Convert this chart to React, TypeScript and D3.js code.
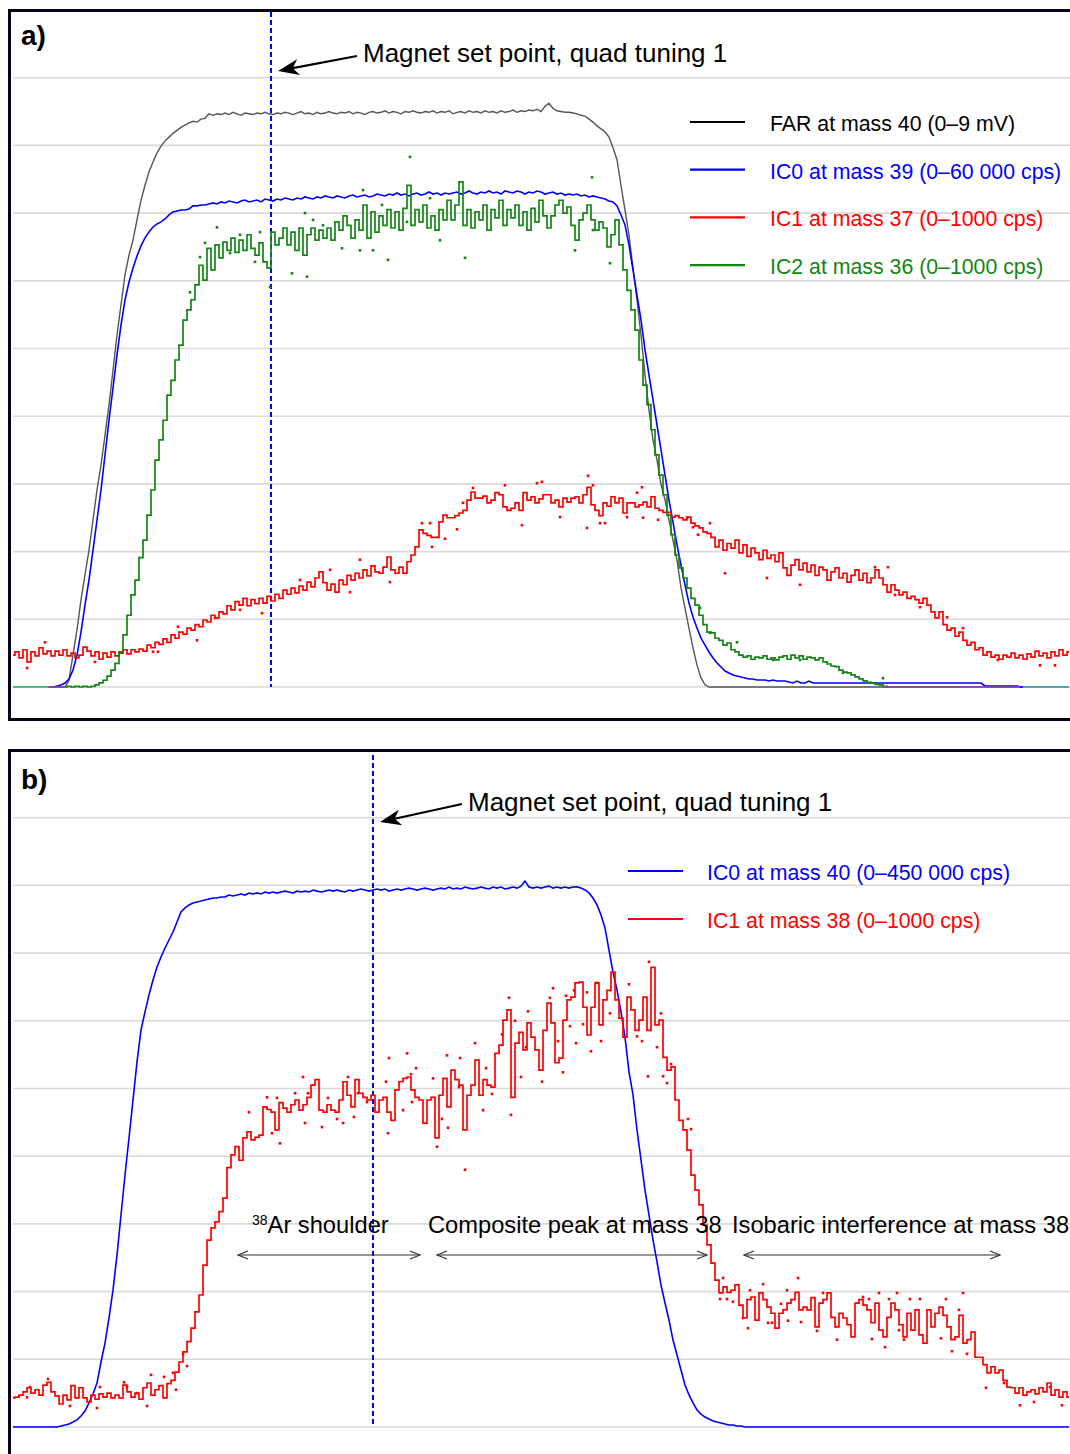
import React from 'react';
import * as d3 from 'd3';

const FONT = "'Liberation Sans', Arial, Helvetica, sans-serif";
const STEP = 4; // scan channels between stored samples
const CHANNELS = 1056;

// ---------- Panel a: mass 40 / 39 / 37 / 36 scan ----------
const FS_FAR = 9; // mV
const FS_IC0_A = 60000; // cps
const FS_IC1_A = 1000;
const FS_IC2_A = 1000;

const farA = [
  0, 0, 0, 0, 0, 0, 0, 0, 0, 0,
  0, 0, 0, 0, 0.09, 0.43, 0.76, 1.16, 1.49, 1.82,
  2.22, 2.62, 2.95, 3.35, 3.75, 4.21, 4.68, 5.08, 5.48, 5.74,
  5.94, 6.21, 6.47, 6.67, 6.85, 6.98, 7.10, 7.19, 7.26, 7.31,
  7.36, 7.40, 7.44, 7.47, 7.50, 7.52, 7.51, 7.55, 7.56, 7.62,
  7.60, 7.62, 7.61, 7.63, 7.61, 7.64, 7.62, 7.60, 7.63, 7.62,
  7.61, 7.63, 7.62, 7.64, 7.62, 7.61, 7.63, 7.62, 7.64, 7.63,
  7.61, 7.63, 7.65, 7.62, 7.63, 7.61, 7.64, 7.62, 7.63, 7.65,
  7.63, 7.62, 7.64, 7.63, 7.65, 7.62, 7.64, 7.63, 7.61, 7.64,
  7.65, 7.63, 7.64, 7.66, 7.63, 7.65, 7.64, 7.62, 7.65, 7.64,
  7.66, 7.64, 7.63, 7.65, 7.64, 7.66, 7.63, 7.65, 7.64, 7.66,
  7.62, 7.64, 7.65, 7.63, 7.66, 7.64, 7.65, 7.63, 7.66, 7.64,
  7.65, 7.63, 7.66, 7.64, 7.65, 7.67, 7.64, 7.66, 7.65, 7.67,
  7.66, 7.68, 7.65, 7.72, 7.76, 7.69, 7.66, 7.65, 7.64, 7.64,
  7.63, 7.62, 7.60, 7.59, 7.55, 7.51, 7.46, 7.42, 7.38, 7.31,
  7.17, 7.01, 6.67, 6.34, 6.01, 5.57, 5.14, 4.68, 4.15, 3.68,
  3.28, 3.02, 2.69, 2.49, 2.22, 1.95, 1.69, 1.32, 1.05, 0.78,
  0.52, 0.29, 0.12, 0.03, 0, 0, 0, 0, 0, 0,
  0, 0, 0, 0, 0, 0, 0, 0, 0, 0,
  0, 0, 0, 0, 0, 0, 0, 0, 0, 0,
  0, 0, 0, 0, 0, 0, 0, 0, 0, 0,
  0, 0, 0, 0, 0, 0, 0, 0, 0, 0,
  0, 0, 0, 0, 0, 0, 0, 0, 0, 0,
  0, 0, 0, 0, 0, 0, 0, 0, 0, 0,
  0, 0, 0, 0, 0, 0, 0, 0, 0, 0,
  0, 0, 0, 0, 0, 0, 0, 0, 0, 0,
  0, 0, 0, 0, 0,
];

const ic0A = [
  0, 0, 0, 0, 0, 0, 0, 0, 0, 0,
  0, 90, 180, 350, 710, 1510, 2840, 4870, 7270, 9480,
  12140, 14800, 17460, 20560, 23660, 26500, 29430, 32080, 34300, 35890,
  37140, 38200, 39090, 39800, 40330, 40770, 41040, 41220, 41480, 41840,
  42100, 42190, 42280, 42280, 42370, 42640, 42640, 42720, 42720, 42810,
  42900, 42810, 42990, 42900, 43070, 42990, 42900, 43070, 43160, 42990,
  43070, 43160, 42990, 43250, 43160, 43070, 43250, 43160, 43340, 43250,
  43160, 43340, 43250, 43430, 43340, 43250, 43430, 43340, 43520, 43430,
  43340, 43520, 43430, 43340, 43520, 43600, 43430, 43520, 43600, 43430,
  43520, 43690, 43600, 43520, 43690, 43600, 43780, 43600, 43690, 43520,
  43690, 43780, 43600, 43690, 43870, 43690, 43780, 43600, 43780, 43690,
  43780, 43870, 43690, 43780, 43960, 43780, 43690, 43870, 43780, 43960,
  43780, 43870, 43690, 43960, 43870, 43780, 43960, 43870, 43690, 43870,
  43780, 43960, 43870, 43690, 43780, 43870, 43690, 43780, 43600, 43690,
  43600, 43690, 43520, 43600, 43430, 43520, 43430, 43340, 43250, 43070,
  42990, 42630, 41830, 40950, 39180, 36960, 34740, 32530, 29870, 27650,
  25440, 23220, 21010, 18790, 16570, 14620, 12590, 10810, 9040, 7440,
  6200, 5230, 4340, 3720, 3100, 2570, 2130, 1770, 1420, 1240,
  1060, 970, 890, 800, 710, 710, 620, 620, 620, 530,
  620, 530, 530, 530, 440, 355, 530, 355, 355, 530,
  355, 355, 355, 355, 355, 355, 355, 355, 355, 355,
  355, 355, 355, 355, 355, 355, 355, 355, 355, 355,
  355, 355, 355, 355, 355, 355, 355, 355, 355, 355,
  355, 355, 355, 355, 355, 355, 355, 355, 355, 355,
  355, 355, 355, 90, 90, 90, 90, 90, 90, 90,
  90, 90, 0, 0, 0, 0, 0, 0, 0, 0,
  0, 0, 0, 0, 0,
];

const ic1A = [
  47, 52, 43, 55, 37, 52, 46, 58, 49, 53,
  46, 53, 47, 55, 46, 50, 43, 47, 59, 53,
  46, 52, 41, 50, 44, 52, 46, 50, 55, 49,
  55, 52, 56, 53, 62, 58, 66, 63, 71, 66,
  77, 72, 81, 78, 87, 84, 92, 89, 99, 96,
  106, 102, 111, 108, 120, 114, 126, 121, 131, 120,
  129, 123, 131, 124, 134, 127, 137, 131, 143, 137,
  146, 139, 149, 143, 155, 148, 161, 170, 154, 143,
  152, 140, 158, 151, 165, 158, 168, 161, 173, 164,
  179, 170, 168, 177, 192, 173, 168, 177, 168, 185,
  195, 207, 232, 227, 224, 221, 221, 244, 254, 250,
  250, 253, 257, 261, 276, 288, 279, 279, 282, 272,
  276, 287, 284, 266, 261, 264, 272, 261, 287, 276,
  281, 272, 278, 284, 284, 272, 276, 266, 279, 273,
  279, 281, 272, 284, 295, 269, 261, 253, 272, 267,
  281, 272, 279, 257, 272, 272, 266, 269, 273, 266,
  281, 264, 261, 258, 258, 251, 253, 250, 247, 251,
  242, 238, 235, 229, 227, 221, 207, 217, 202, 212,
  205, 217, 198, 210, 193, 205, 198, 188, 202, 190,
  195, 185, 198, 176, 165, 180, 188, 173, 183, 170,
  180, 165, 177, 173, 158, 170, 176, 161, 168, 155,
  165, 173, 158, 168, 154, 161, 173, 161, 151, 140,
  151, 143, 136, 140, 131, 134, 129, 124, 131, 121,
  111, 102, 111, 92, 84, 87, 75, 81, 69, 62,
  66, 55, 58, 47, 52, 44, 47, 41, 47, 44,
  50, 43, 47, 41, 49, 44, 53, 46, 50, 43,
  52, 46, 55, 47, 52,
];

const ic2A: (number | null)[] = [
  0, 0, 0, 0, 0, 0, 0, 0, 0, 0,
  0, 0, 0, 0, 1, 0, 1, 0, 1, 0,
  1, 3, 6, 10, 16, 25, 35, 52, 77, 106,
  136, 158, 191, 217, 254, 291, 335, 365, 394, 431,
  453, 483, 505, 542, 557, 572, 594, 623, 601, 648,
  616, 653, 634, 657, 645, 663, 642, 660, 645, 668,
  648, 638, 656, 628, 619, 672, 653, 663, 678, 653,
  672, 645, 678, 638, 668, 678, 660, 675, 663, 678,
  660, 687, 675, 696, 682, 663, 690, 675, 712, 663,
  702, 672, 696, 682, 705, 678, 702, 675, 707, 741,
  682, 705, 687, 712, 678, 696, 675, 705, 690, 719,
  690, 712, 746, 682, 705, 678, 702, 690, 712, 675,
  705, 693, 719, 682, 705, 693, 712, 682, 702, 675,
  707, 687, 719, 696, 678, 696, 712, 719, 700, 709,
  682, 660, 690, 700, 712, 690, 675, 687, 678, 650,
  668, 690, 653, 616, 586, 557, 527, 483, 446, 417,
  380, 343, 313, 284, 254, 225, 195, 176, 161, 146,
  131, 121, 106, 92, 81, 80, 72, 69, 62, 65,
  55, 52, 47, 44, 46, 41, 44, 43, 46, 41,
  43, 40, 44, 46, 41, 47, 43, 46, 41, 44,
  43, 40, 43, 37, 34, 31, 30, 25, 22, 21,
  18, 15, 12, 9, 7, 6, 4, 3, 1, 0,
  0, 0, 0, 0, 0, 0, 0, 0, 0, 0,
  0, 0, 0, 0, 0, 0, 0, 0, null, null,
  null, null, null, null, null, null, null, null, null, null,
  null, null, null, null, null, null, null, null, null, null,
  null, null, null, null, null,
];

// isolated readings [channel, cps]
const ic1ADots = [
  [14, 28], [32, 66], [82, 37], [140, 52], [145, 52], [165, 89], [184, 69], [202, 102],
  [227, 114], [249, 109], [287, 158], [317, 173], [337, 140], [347, 188], [377, 155],
  [409, 242], [417, 242], [419, 207], [432, 219], [444, 233], [450, 272], [460, 294],
  [492, 298], [509, 239], [524, 301], [529, 303], [547, 251], [574, 235], [575, 312],
  [580, 298], [587, 242], [592, 242], [614, 251], [624, 287], [629, 295], [630, 250],
  [645, 247], [674, 250], [680, 236], [685, 225], [697, 242], [712, 168], [754, 161],
  [787, 151], [862, 177], [875, 177], [882, 136], [907, 118], [934, 103], [950, 87],
  [985, 40], [1027, 32], [1042, 32],
];

const ic2ADots = [
  [177, 583], [187, 635], [192, 656], [204, 679], [217, 641], [227, 668], [242, 628],
  [247, 672], [257, 591], [279, 611], [292, 700], [294, 606], [300, 690], [310, 682],
  [329, 648], [347, 645], [350, 734], [360, 645], [369, 712], [375, 631], [394, 687],
  [397, 783], [417, 722], [427, 660], [452, 634], [562, 645], [579, 753], [580, 675],
  [597, 626], [687, 117], [697, 80], [724, 66], [760, 40], [787, 40], [830, 21], [870, 13],
];

// other collectors sitting on zero: [from channel, to channel]
const quietTracesA = [
  { color: '#66d8a8', spans: [[0, 37], [1010, 1056]] },
  { color: '#a23db6', spans: [[35, 52], [870, 1007]] },
];

const setPointA = 258;

const legendA = [
  { label: 'FAR at mass 40 (0–9 mV)', line: '#000000', text: '#000000' },
  { label: 'IC0 at mass 39 (0–60 000 cps)', line: '#0000ff', text: '#0000ff' },
  { label: 'IC1 at mass 37 (0–1000 cps)', line: '#ff0000', text: '#ff0000' },
  { label: 'IC2 at mass 36 (0–1000 cps)', line: '#128512', text: '#128512' },
];

// ---------- Panel b: mass 40 / 38 scan ----------
const FS_IC0_B = 450; // kcps
const FS_IC1_B = 1000; // cps

const ic0B = [
  0, 0, 0, 0, 0, 0, 0, 0, 0, 0,
  0, 0, 0.7, 1.3, 2.0, 3.3, 4.7, 7.3, 10.6, 16.0,
  21.9, 29.2, 43.2, 55.8, 72.5, 91.1, 114.3, 140.9, 167.5, 192.1,
  217.4, 242.6, 263.9, 275.9, 287.2, 297.1, 305.8, 312.4, 318.4, 323.7,
  329.0, 335.7, 342.3, 345.0, 347.0, 348.3, 349.0, 349.6, 350.3, 351.0,
  351.6, 351.6, 352.3, 352.3, 353.6, 353.0, 353.6, 354.3, 353.6, 354.9,
  354.3, 355.0, 354.3, 355.6, 354.9, 355.6, 354.9, 355.6, 356.2, 355.6,
  354.9, 356.2, 355.6, 356.2, 355.6, 356.9, 356.2, 355.6, 356.2, 356.9,
  356.2, 356.9, 356.2, 355.6, 356.9, 356.2, 356.9, 357.6, 356.9, 356.2,
  356.9, 357.6, 356.9, 357.6, 356.2, 356.9, 357.6, 356.9, 357.6, 358.2,
  357.6, 356.9, 357.6, 358.2, 357.6, 356.9, 357.6, 358.2, 357.6, 358.9,
  357.6, 358.2, 357.6, 358.9, 358.2, 357.6, 358.2, 358.9, 358.2, 357.6,
  358.9, 358.2, 358.9, 357.6, 358.2, 358.9, 358.2, 359.5, 362.9, 358.9,
  358.2, 358.9, 358.2, 358.9, 359.5, 358.2, 358.9, 358.2, 358.9, 358.2,
  358.9, 359.0, 358.3, 357.0, 355.0, 351.6, 347.0, 340.3, 331.7, 317.0,
  302.4, 290.5, 275.9, 259.2, 236.0, 220.7, 197.4, 177.5, 157.5, 140.9,
  124.3, 109.7, 94.4, 82.4, 71.1, 57.8, 47.9, 37.9, 27.9, 21.3,
  16.0, 11.3, 8.6, 6.6, 5.3, 4.0, 3.3, 2.7, 2.0, 1.3,
  1.3, 0.7, 0.7, 0, 0, 0, 0, 0, 0, 0,
  0, 0, 0, 0, 0, 0, 0, 0, 0, 0,
  0, 0, 0, 0, 0, 0, 0, 0, 0, 0,
  0, 0, 0, 0, 0, 0, 0, 0, 0, 0,
  0, 0, 0, 0, 0, 0, 0, 0, 0, 0,
  0, 0, 0, 0, 0, 0, 0, 0, 0, 0,
  0, 0, 0, 0, 0, 0, 0, 0, 0, 0,
  0, 0, 0, 0, 0, 0, 0, 0, 0, 0,
  0, 0, 0, 0, 0,
];

const ic1B = [
  43, 44, 47, 52, 58, 50, 55, 47, 62, 66,
  52, 46, 34, 47, 40, 61, 43, 58, 43, 37,
  47, 41, 49, 44, 50, 43, 47, 43, 62, 52,
  44, 50, 41, 58, 65, 47, 55, 61, 43, 64,
  69, 81, 96, 111, 126, 146, 170, 195, 239, 276,
  294, 303, 318, 338, 383, 402, 414, 394, 427, 436,
  424, 428, 431, 473, 469, 465, 439, 479, 471, 465,
  476, 483, 468, 476, 487, 505, 513, 468, 465, 476,
  468, 465, 483, 510, 490, 473, 513, 493, 487, 483,
  490, 465, 483, 487, 465, 453, 498, 510, 515, 517,
  498, 487, 483, 449, 483, 487, 427, 490, 515, 473,
  527, 513, 505, 439, 490, 505, 542, 490, 513, 505,
  502, 552, 564, 601, 616, 487, 567, 583, 557, 597,
  576, 557, 527, 586, 626, 597, 538, 545, 601, 631,
  635, 656, 657, 620, 579, 620, 656, 594, 631, 645,
  672, 631, 604, 576, 635, 616, 586, 601, 635, 586,
  679, 594, 601, 546, 527, 532, 483, 453, 439, 409,
  372, 350, 328, 298, 269, 242, 217, 198, 207, 199,
  202, 210, 180, 161, 188, 192, 158, 198, 188, 177,
  168, 146, 168, 173, 183, 188, 199, 173, 177, 173,
  191, 148, 183, 188, 198, 162, 148, 168, 161, 151,
  133, 183, 188, 180, 173, 154, 183, 143, 133, 162,
  183, 173, 151, 133, 168, 143, 173, 136, 124, 173,
  148, 168, 177, 165, 148, 129, 133, 165, 124, 129,
  140, 103, 103, 92, 80, 89, 80, 84, 69, 59,
  58, 50, 58, 47, 52, 55, 49, 58, 52, 65,
  47, 55, 44, 52, 44,
];

const ic1BDots = [
  [17, 59], [14, 44], [35, 71], [57, 31], [84, 28], [87, 59], [111, 66], [114, 59],
  [124, 50], [134, 31], [138, 77], [151, 74], [160, 80], [163, 55], [170, 108], [174, 90],
  [236, 465], [254, 487], [264, 486], [259, 434], [267, 419], [290, 517], [282, 493],
  [295, 493], [292, 449], [309, 443], [315, 486], [324, 455], [330, 449], [341, 458],
  [335, 517], [345, 493], [354, 480], [373, 510], [376, 545], [394, 552], [403, 530],
  [398, 521], [375, 434], [390, 468], [399, 480], [420, 515], [424, 414], [429, 455],
  [435, 442], [434, 549], [447, 545], [446, 502], [452, 380], [470, 468], [462, 567],
  [473, 530], [479, 492], [489, 580], [496, 634], [498, 461], [502, 600], [508, 517],
  [515, 614], [513, 561], [529, 510], [537, 634], [540, 648], [545, 570], [550, 524],
  [553, 637], [557, 592], [561, 645], [563, 567], [570, 595], [574, 642], [578, 555],
  [584, 656], [588, 570], [597, 611], [616, 654], [624, 577], [629, 570], [636, 687],
  [635, 518], [648, 611], [644, 561], [650, 518], [654, 508], [658, 536], [675, 455],
  [678, 440], [710, 220], [707, 189], [714, 189], [720, 185], [730, 161], [735, 146],
  [737, 202], [750, 211], [755, 154], [759, 154], [768, 182], [774, 202], [775, 157],
  [785, 220], [788, 155], [804, 142], [810, 198], [824, 129], [850, 192], [856, 189],
  [859, 130], [866, 198], [872, 118], [876, 189], [884, 198], [886, 143], [891, 129],
  [897, 189], [907, 189], [928, 131], [933, 189], [939, 112], [946, 173], [950, 198],
  [954, 108], [973, 58], [991, 65], [1007, 32], [1021, 37], [1037, 59], [1049, 32],
];

const setPointB = 360;

const legendB = [
  { label: 'IC0 at mass 40 (0–450 000 cps)', line: '#0000ff', text: '#0000ff' },
  { label: 'IC1 at mass 38 (0–1000 cps)', line: '#ff0000', text: '#ff0000' },
];

// peak regions along the mass-38 scan: label start, arrow span (channels)
const regionsB = [
  { iso: '38', label: 'Ar shoulder', labelAt: 239, from: 225, to: 407 },
  { iso: '', label: 'Composite peak at mass 38', labelAt: 415, from: 424, to: 694 },
  { iso: '', label: 'Isobaric interference at mass 38', labelAt: 719, from: 731, to: 987 },
];

const TITLE = 'Magnet set point, quad tuning 1';

// ---------- drawing ----------
const x = d3.scaleLinear().domain([0, CHANNELS]).range([13, 1069]);

type Panel = { top: number; zero: number; frameBottom: number };
const PANEL_A: Panel = { top: 10, zero: 687, frameBottom: 720 };
const PANEL_B: Panel = { top: 750, zero: 1427, frameBottom: 1470 };

const yScale = (p: Panel, fs: number) => d3.scaleLinear().domain([0, fs]).range([p.zero, p.top]);

function tracePath(values: (number | null)[], y: d3.ScaleLinear<number, number>, curve: d3.CurveFactory) {
  return (
    d3
      .line<number | null>()
      .defined((d) => d != null)
      .x((_, i) => x(i * STEP))
      .y((d) => y(d as number))
      .curve(curve)(values) || ''
  );
}

function arrowHead(tx: number, ty: number, fx: number, fy: number, len: number, half: number, notch: number) {
  const dx = tx - fx;
  const dy = ty - fy;
  const L = Math.hypot(dx, dy);
  const ux = dx / L;
  const uy = dy / L;
  const nx = -uy;
  const ny = ux;
  const bx = tx - ux * len;
  const by = ty - uy * len;
  const cx = tx - ux * (len - notch);
  const cy = ty - uy * (len - notch);
  return {
    d: `M${tx},${ty}L${bx + nx * half},${by + ny * half}L${cx},${cy}L${bx - nx * half},${by - ny * half}Z`,
    nx: cx,
    ny: cy,
  };
}

function Grid({ p }: { p: Panel }) {
  const g = yScale(p, 10);
  return (
    <g>
      {d3.range(0, 11).map((k) => (
        <line key={k} x1={13} x2={1070} y1={g(k)} y2={g(k)} stroke="#dadada" strokeWidth={1.6} />
      ))}
    </g>
  );
}

function Dots({ pts, y, color }: { pts: number[][]; y: d3.ScaleLinear<number, number>; color: string }) {
  return (
    <g fill={color}>
      {pts.map(([c, v], i) => (
        <rect key={i} x={x(c) - 1.3} y={y(v) - 1.3} width={2.6} height={2.6} />
      ))}
    </g>
  );
}

function Title({ setPoint, ty, sx, sy, tipY }: { setPoint: number; ty: number; sx: number; sy: number; tipY: number }) {
  const tipX = x(setPoint) + 7;
  const head = arrowHead(tipX, tipY, sx, sy, 21, 8, 6);
  return (
    <g>
      <line x1={sx} y1={sy} x2={head.nx} y2={head.ny} stroke="#000" strokeWidth={2.2} />
      <path d={head.d} fill="#000" />
      <text x={sx + 6} y={ty} fontFamily={FONT} fontSize={26} fill="#000">
        {TITLE}
      </text>
    </g>
  );
}

function Legend({
  items,
  x1,
  x2,
  tx,
  y0,
  dy,
}: {
  items: { label: string; line: string; text: string }[];
  x1: number;
  x2: number;
  tx: number;
  y0: number;
  dy: number;
}) {
  return (
    <g>
      {items.map((it, i) => (
        <g key={it.label}>
          <line x1={x1} x2={x2} y1={y0 + i * dy - 9} y2={y0 + i * dy - 9} stroke={it.line} strokeWidth={2.2} />
          <text x={tx} y={y0 + i * dy} fontFamily={FONT} fontSize={21.3} fill={it.text}>
            {it.label}
          </text>
        </g>
      ))}
    </g>
  );
}

function Frame({ p }: { p: Panel }) {
  return (
    <rect
      x={9.5}
      y={p.top + 0.5}
      width={1200}
      height={p.frameBottom - p.top - 1}
      fill="none"
      stroke="#05051a"
      strokeWidth={3}
    />
  );
}

export default function App() {
  const yFar = yScale(PANEL_A, FS_FAR);
  const yIc0A = yScale(PANEL_A, FS_IC0_A);
  const yIc1A = yScale(PANEL_A, FS_IC1_A);
  const yIc2A = yScale(PANEL_A, FS_IC2_A);
  const yIc0B = yScale(PANEL_B, FS_IC0_B);
  const yIc1B = yScale(PANEL_B, FS_IC1_B);

  const green = '#128512';
  const arrowY = 1255;

  return (
    <svg
      width={1070}
      height={1454}
      viewBox="0 0 1070 1454"
      style={{ position: 'absolute', left: 0, top: 0, background: '#fff' }}
    >
      <rect x={0} y={0} width={1070} height={1454} fill="#fff" />

      {/* panel a */}
      <Grid p={PANEL_A} />
      <line
        x1={x(setPointA)}
        x2={x(setPointA)}
        y1={12}
        y2={PANEL_A.zero}
        stroke="#0000ff"
        strokeWidth={2}
        strokeDasharray="5,3"
      />
      <path d={tracePath(farA, yFar, d3.curveLinear)} fill="none" stroke="#555" strokeWidth={1.4} />
      <path d={tracePath(ic0A, yIc0A, d3.curveLinear)} fill="none" stroke="#0000ff" strokeWidth={1.6} />
      <path d={tracePath(ic1A, yIc1A, d3.curveStep)} fill="none" stroke="#ff0000" strokeWidth={1.7} />
      <Dots pts={ic1ADots} y={yIc1A} color="#ff0000" />
      <path d={tracePath(ic2A, yIc2A, d3.curveStep)} fill="none" stroke={green} strokeWidth={1.7} />
      <Dots pts={ic2ADots} y={yIc2A} color={green} />
      {quietTracesA.map((t) =>
        t.spans.map(([a, b], i) => (
          <line
            key={t.color + i}
            x1={x(a)}
            x2={x(b)}
            y1={PANEL_A.zero}
            y2={PANEL_A.zero}
            stroke={t.color}
            strokeWidth={1.6}
          />
        ))
      )}
      <Title setPoint={setPointA} ty={62} sx={357} sy={56} tipY={71} />
      <Legend items={legendA} x1={690} x2={745} tx={770} y0={131} dy={47.7} />
      <text x={21} y={45} fontFamily={FONT} fontSize={28} fontWeight="bold">
        a)
      </text>
      <Frame p={PANEL_A} />

      {/* panel b */}
      <Grid p={PANEL_B} />
      <line
        x1={x(setPointB)}
        x2={x(setPointB)}
        y1={755}
        y2={PANEL_B.zero}
        stroke="#0000ff"
        strokeWidth={2}
        strokeDasharray="5,3"
      />
      <path d={tracePath(ic0B, yIc0B, d3.curveLinear)} fill="none" stroke="#0000ff" strokeWidth={1.6} />
      <path d={tracePath(ic1B, yIc1B, d3.curveStep)} fill="none" stroke="#ff0000" strokeWidth={1.7} />
      <Dots pts={ic1BDots} y={yIc1B} color="#ff0000" />
      <Title setPoint={setPointB} ty={811} sx={462} sy={804} tipY={822} />
      <Legend items={legendB} x1={628} x2={683} tx={707} y0={880} dy={48} />
      {regionsB.map((r) => {
        const a = x(r.from);
        const b = x(r.to);
        return (
          <g key={r.label}>
            <text x={x(r.labelAt)} y={1233} fontFamily={FONT} fontSize={23.7} fill="#000">
              {r.iso ? (
                <tspan fontSize={14} dy={-8}>
                  {r.iso}
                </tspan>
              ) : null}
              <tspan dy={r.iso ? 8 : 0}>{r.label}</tspan>
            </text>
            <line x1={a} x2={b} y1={arrowY} y2={arrowY} stroke="#333" strokeWidth={1.2} />
            <path
              d={`M${a + 10},${arrowY - 4}L${a},${arrowY}L${a + 10},${arrowY + 4}M${b - 10},${arrowY - 4}L${b},${arrowY}L${b - 10},${arrowY + 4}`}
              fill="none"
              stroke="#333"
              strokeWidth={1.2}
            />
          </g>
        );
      })}
      <text x={21} y={789} fontFamily={FONT} fontSize={28} fontWeight="bold">
        b)
      </text>
      <Frame p={PANEL_B} />
    </svg>
  );
}
